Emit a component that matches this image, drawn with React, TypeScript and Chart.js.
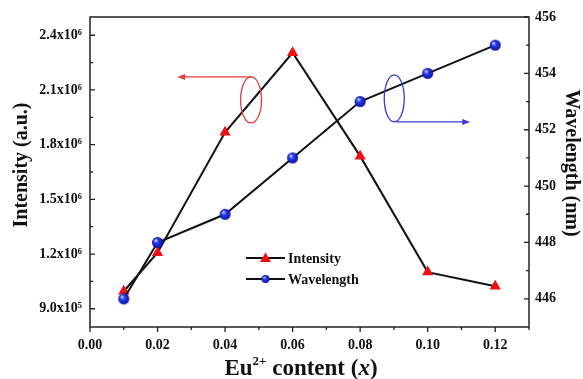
import React, { useEffect, useRef } from "react";
import { Chart, registerables } from "chart.js";

Chart.register(...registerables);

// Eu2+ doping level
const euContent = [0.01, 0.02, 0.04, 0.06, 0.08, 0.1, 0.12];
// Emission intensity (a.u.)
const intensity = [9.96e5, 1.207e6, 1.868e6, 2.304e6, 1.737e6, 1.101e6, 1.024e6];
// Emission peak wavelength (nm)
const wavelength = [446, 448, 449, 451, 453, 454, 455];

// Labelled tick values
const xTicks = [0, 0.02, 0.04, 0.06, 0.08, 0.1, 0.12];
const yTicks = [9e5, 1.2e6, 1.5e6, 1.8e6, 2.1e6, 2.4e6];
const y1Ticks = [446, 448, 450, 452, 454, 456];

const seriesNames = ["Intensity", "Wavelength"];
const xTitle = { base: "Eu", sup: "2+", mid: " content (", ital: "x", end: ")" };
const yTitle = "Intensity (a.u.)";
const y1Title = "Wavelength (nm)";

const SERIF = "'Liberation Serif', 'Times New Roman', serif";
const SUPS: Record<string, string> = { "0": "⁰", "1": "¹", "2": "²", "3": "³", "4": "⁴", "5": "⁵", "6": "⁶", "7": "⁷", "8": "⁸", "9": "⁹" };

function sciLabel(v: number) {
  const e = Math.floor(Math.log10(v) + 1e-9);
  const m = v / Math.pow(10, e);
  return m.toFixed(1) + "x10" + String(e).split("").map((d) => SUPS[d]).join("");
}

function makeBall(r: number) {
  const s = Math.ceil(r * 2 + 2);
  const c = document.createElement("canvas");
  c.width = s;
  c.height = s;
  const g = c.getContext("2d")!;
  const cx = s / 2;
  const grad = g.createRadialGradient(cx - r * 0.35, cx - r * 0.4, r * 0.1, cx, cx, r);
  grad.addColorStop(0, "#c8ceff");
  grad.addColorStop(0.35, "#2a3cf2");
  grad.addColorStop(1, "#0b0f9a");
  g.fillStyle = grad;
  g.beginPath();
  g.arc(cx, cx, r, 0, Math.PI * 2);
  g.fill();
  return c;
}

function arrowHead(ctx: CanvasRenderingContext2D, x: number, y: number, dir: number, color: string) {
  ctx.save();
  ctx.fillStyle = color;
  ctx.beginPath();
  ctx.moveTo(x, y);
  ctx.lineTo(x - dir * 8, y - 3);
  ctx.lineTo(x - dir * 8, y + 3);
  ctx.closePath();
  ctx.fill();
  ctx.restore();
}

const fixedTicks = (values: number[]) => (s: any) => {
  s.ticks = values.map((value) => ({ value }));
};

const decorPlugin = {
  id: "decor",
  afterDraw(chart: any) {
    const { ctx, chartArea: a, scales } = chart;
    const xs = scales.x, ys = scales.y, ys1 = scales.y1;
    ctx.save();
    // frame
    ctx.strokeStyle = "#222";
    ctx.lineWidth = 1.5;
    ctx.strokeRect(a.left, a.top, a.right - a.left, a.bottom - a.top);

    // tick marks (major + minor)
    ctx.lineWidth = 1.3;
    ctx.beginPath();
    for (let i = 0; i <= 13; i++) {
      const px = xs.getPixelForValue(i * 0.01);
      const len = i % 2 === 0 ? 5 : 3;
      ctx.moveTo(px, a.bottom);
      ctx.lineTo(px, a.bottom + len);
    }
    for (let k = 0; k <= 10; k++) {
      const py = ys.getPixelForValue(9e5 + k * 1.5e5);
      ctx.moveTo(a.left, py);
      ctx.lineTo(a.left + (k % 2 === 0 ? 5 : 3), py);
    }
    for (let v = 446; v <= 456; v++) {
      const py = ys1.getPixelForValue(v);
      ctx.moveTo(a.right, py);
      ctx.lineTo(a.right - (v % 2 === 0 ? 5 : 3), py);
    }
    ctx.stroke();

    // axis titles
    ctx.fillStyle = "#111";
    ctx.textBaseline = "middle";
    ctx.textAlign = "center";
    ctx.font = `bold 20px ${SERIF}`;
    ctx.save();
    ctx.translate(22, 165);
    ctx.rotate(-Math.PI / 2);
    ctx.fillText(yTitle, 0, 0);
    ctx.restore();
    ctx.save();
    ctx.translate(571, 163);
    ctx.rotate(Math.PI / 2);
    ctx.fillText(y1Title, 0, 0);
    ctx.restore();

    // x title with superscript and italic variable
    const big = `bold 23px ${SERIF}`;
    const small = `bold 13px ${SERIF}`;
    const ital = `italic bold 23px ${SERIF}`;
    ctx.textAlign = "left";
    ctx.textBaseline = "alphabetic";
    const parts: [string, string, number][] = [
      [xTitle.base, big, 0],
      [xTitle.sup, small, -10],
      [xTitle.mid, big, 0],
      [xTitle.ital, ital, 0],
      [xTitle.end, big, 0],
    ];
    let total = 0;
    for (const [t, f] of parts) { ctx.font = f; total += ctx.measureText(t).width; }
    let cx = 301 - total / 2;
    const base = 375;
    for (const [t, f, dy] of parts) {
      ctx.font = f;
      ctx.fillText(t, cx, base + dy);
      cx += ctx.measureText(t).width;
    }

    // legend
    const lx0 = 246, lx1 = 285, lmid = 265.5;
    const rows = [258, 279];
    ctx.strokeStyle = "#111";
    ctx.lineWidth = 2;
    ctx.font = `bold 14px ${SERIF}`;
    ctx.textBaseline = "middle";
    rows.forEach((ry, i) => {
      ctx.beginPath();
      ctx.moveTo(lx0, ry);
      ctx.lineTo(lx1, ry);
      ctx.stroke();
      if (i === 0) {
        ctx.fillStyle = "#ee1111";
        ctx.beginPath();
        ctx.moveTo(lmid, ry - 5.5);
        ctx.lineTo(lmid + 5.5, ry + 4);
        ctx.lineTo(lmid - 5.5, ry + 4);
        ctx.closePath();
        ctx.fill();
      } else {
        const b = makeBall(4);
        ctx.drawImage(b, lmid - b.width / 2, ry - b.height / 2);
      }
      ctx.fillStyle = "#111";
      ctx.fillText(seriesNames[i], 288, ry + 1);
    });

    // series markers: red loop pointing to left axis, blue loop pointing to right axis
    ctx.lineWidth = 1.3;
    const rcx = xs.getPixelForValue(0.0477), rcy = ys.getPixelForValue(2.045e6);
    ctx.strokeStyle = "#e03c3c";
    ctx.beginPath();
    ctx.ellipse(rcx, rcy, 10.5, 23, 0, 0, Math.PI * 2);
    ctx.stroke();
    const rEnd = xs.getPixelForValue(0.0258);
    ctx.beginPath();
    ctx.moveTo(rcx, rcy - 23);
    ctx.lineTo(rEnd + 4, rcy - 23);
    ctx.stroke();
    arrowHead(ctx, rEnd, rcy - 23, -1, "#e03c3c");

    const bcx = xs.getPixelForValue(0.0901), bcy = ys1.getPixelForValue(453.11);
    ctx.strokeStyle = "#3a3ad8";
    ctx.beginPath();
    ctx.ellipse(bcx, bcy, 10, 23.5, 0, 0, Math.PI * 2);
    ctx.stroke();
    const bEnd = xs.getPixelForValue(0.1126);
    ctx.beginPath();
    ctx.moveTo(bcx + 2, bcy + 23.5);
    ctx.lineTo(bEnd - 4, bcy + 23.5);
    ctx.stroke();
    arrowHead(ctx, bEnd, bcy + 23.5, 1, "#3a3ad8");

    ctx.restore();
  },
};

export default function App() {
  const ref = useRef<HTMLCanvasElement | null>(null);

  useEffect(() => {
    if (!ref.current) return;
    const ball = makeBall(5.5);
    const tickFont = { family: SERIF, size: 14, weight: "bold" as const };
    const noGrid = { display: false, drawTicks: false };
    const chart = new Chart(ref.current, {
      type: "line",
      data: {
        datasets: [
          {
            label: seriesNames[1],
            data: euContent.map((x, i) => ({ x, y: wavelength[i] })),
            yAxisID: "y1",
            borderColor: "#111",
            borderWidth: 2,
            pointStyle: ball as any,
            pointRadius: 5.5,
            tension: 0,
          },
          {
            label: seriesNames[0],
            data: euContent.map((x, i) => ({ x, y: intensity[i] })),
            yAxisID: "y",
            borderColor: "#111",
            borderWidth: 2,
            pointStyle: "triangle",
            pointRadius: 6.5,
            pointBackgroundColor: "#ee1111",
            pointBorderColor: "#ee1111",
            pointBorderWidth: 0,
            tension: 0,
          },
        ],
      },
      options: {
        responsive: false,
        animation: false,
        layout: { padding: { top: 17, left: 0, right: 0, bottom: 0 } },
        plugins: { legend: { display: false }, tooltip: { enabled: false } },
        scales: {
          x: {
            type: "linear",
            min: 0,
            max: 0.13,
            grid: noGrid,
            border: { display: false },
            afterBuildTicks: fixedTicks(xTicks),
            ticks: {
              padding: 10,
              color: "#111",
              font: tickFont,
              maxRotation: 0,
              autoSkip: false,
              callback: (v: any) => Number(v).toFixed(2),
            },
            afterFit: (s: any) => { s.height = 52; },
          },
          y: {
            type: "linear",
            position: "left",
            min: 8e5,
            max: 2.5e6,
            grid: noGrid,
            border: { display: false },
            afterBuildTicks: fixedTicks(yTicks),
            ticks: {
              padding: 8,
              color: "#111",
              font: tickFont,
              autoSkip: false,
              callback: (v: any) => sciLabel(Number(v)),
            },
            afterFit: (s: any) => { s.width = 90; },
          },
          y1: {
            type: "linear",
            position: "right",
            min: 445,
            max: 456,
            grid: noGrid,
            border: { display: false },
            afterBuildTicks: fixedTicks(y1Ticks),
            ticks: {
              padding: 6,
              color: "#111",
              font: tickFont,
              autoSkip: false,
            },
            afterFit: (s: any) => { s.width = 54; },
          },
        },
      },
      plugins: [decorPlugin],
    });
    return () => chart.destroy();
  }, []);

  return (
    <div style={{ position: "absolute", left: 0, top: 0, width: 583, height: 379, background: "#fff" }}>
      <canvas ref={ref} width={583} height={379} />
    </div>
  );
}
